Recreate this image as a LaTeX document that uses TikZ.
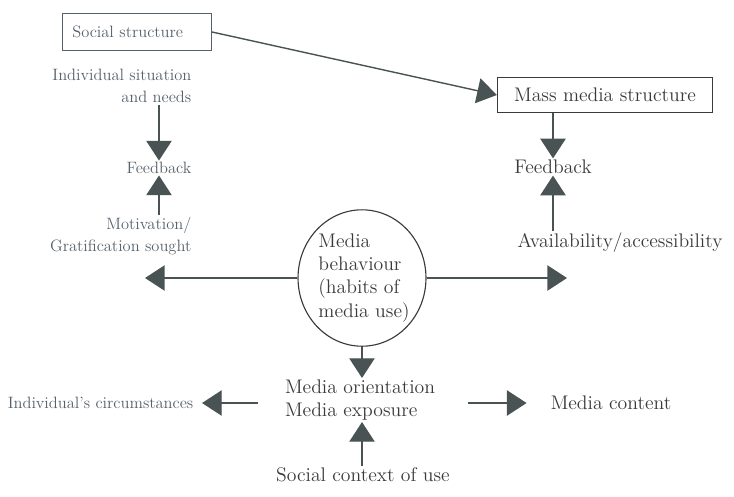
\documentclass[tikz,border=0pt]{standalone}
\usetikzlibrary{arrows.meta,shapes.geometric}
\definecolor{ink}{HTML}{3A3A3A}
\definecolor{paleink}{HTML}{55606A}
\definecolor{arrowgray}{HTML}{4A5353}
\tikzset{
  big/.style={text=ink,font=\fontsize{14}{16.5}\selectfont,inner sep=1pt},
  small/.style={text=paleink,font=\fontsize{11.7}{16}\selectfont,inner sep=1pt,align=right},
  box/.style={draw=ink,line width=0.8pt},
  arr/.style={draw=arrowgray,line width=1pt,-{Triangle[length=14pt,width=18pt]}}
}
\begin{document}
\begin{tikzpicture}[x=0.025cm,y=-0.025cm]
\useasboundingbox (0,0) rectangle (734,496);
% Structures
\node[box,small,draw=paleink,align=left,text width=92pt,inner xsep=7pt,minimum height=26pt] (social) at (137,32) {Social structure};
\node[box,big,minimum width=153pt,minimum height=25pt] (massmedia) at (605,95) {Mass media structure};
\draw[arr] (social.east) -- (massmedia.west);
% Left column
\node[small,anchor=east] (needs) at (193,86) {Individual situation\\and needs};
\node[small,anchor=east] (fbleft) at (193,168) {Feedback};
\node[small,anchor=east] (motive) at (193,236) {Motivation/\\Gratification sought};
\draw[arr] (needs.south -| fbleft.center) -- (fbleft.north -| fbleft.center);
\draw[arr] (motive.north -| fbleft.center) -- (fbleft.south -| fbleft.center);
% Right column
\node[big] (fbright) at (553,167) {Feedback};
\node[big] (avail) at (620,243) {Availability/accessibility};
\draw[arr] (massmedia.south -| fbright.center) -- (fbright.north);
\draw[arr] (avail.north -| fbright.center) -- (fbright.south);
% Centre
\node[ellipse,draw=ink,line width=0.8pt,minimum width=91pt,minimum height=97pt,inner sep=0pt] (behaviour) at (362,278) {};
\node[big,align=left] (behaviourtext) at (364,278) {Media\\behaviour\\(habits of\\media use)};
\coordinate (lefttip) at (145,278);
\coordinate (righttip) at (567,278);
\draw[arr] (behaviour.west) -- (lefttip);
\draw[arr] (behaviour.east) -- (righttip);
% Bottom row
\node[big,align=left] (orient) at (360,400) {Media orientation\\Media exposure};
\node[small,anchor=east] (circum) at (195,403) {Individual's circumstances};
\node[big] (content) at (611,403) {Media content};
\node[big] (context) at (363,475) {Social context of use};
\draw[arr] (behaviour.south) -- (orient.north -| behaviour.south);
\draw[arr] (context.north -| behaviour.south) -- (orient.south -| behaviour.south);
\draw[arr,shorten <=18pt,shorten >=5pt] (orient.west |- circum.east) -- (circum.east);
\draw[arr,shorten <=22pt,shorten >=16pt] (orient.east |- content.west) -- (content.west);
\end{tikzpicture}
\end{document}
